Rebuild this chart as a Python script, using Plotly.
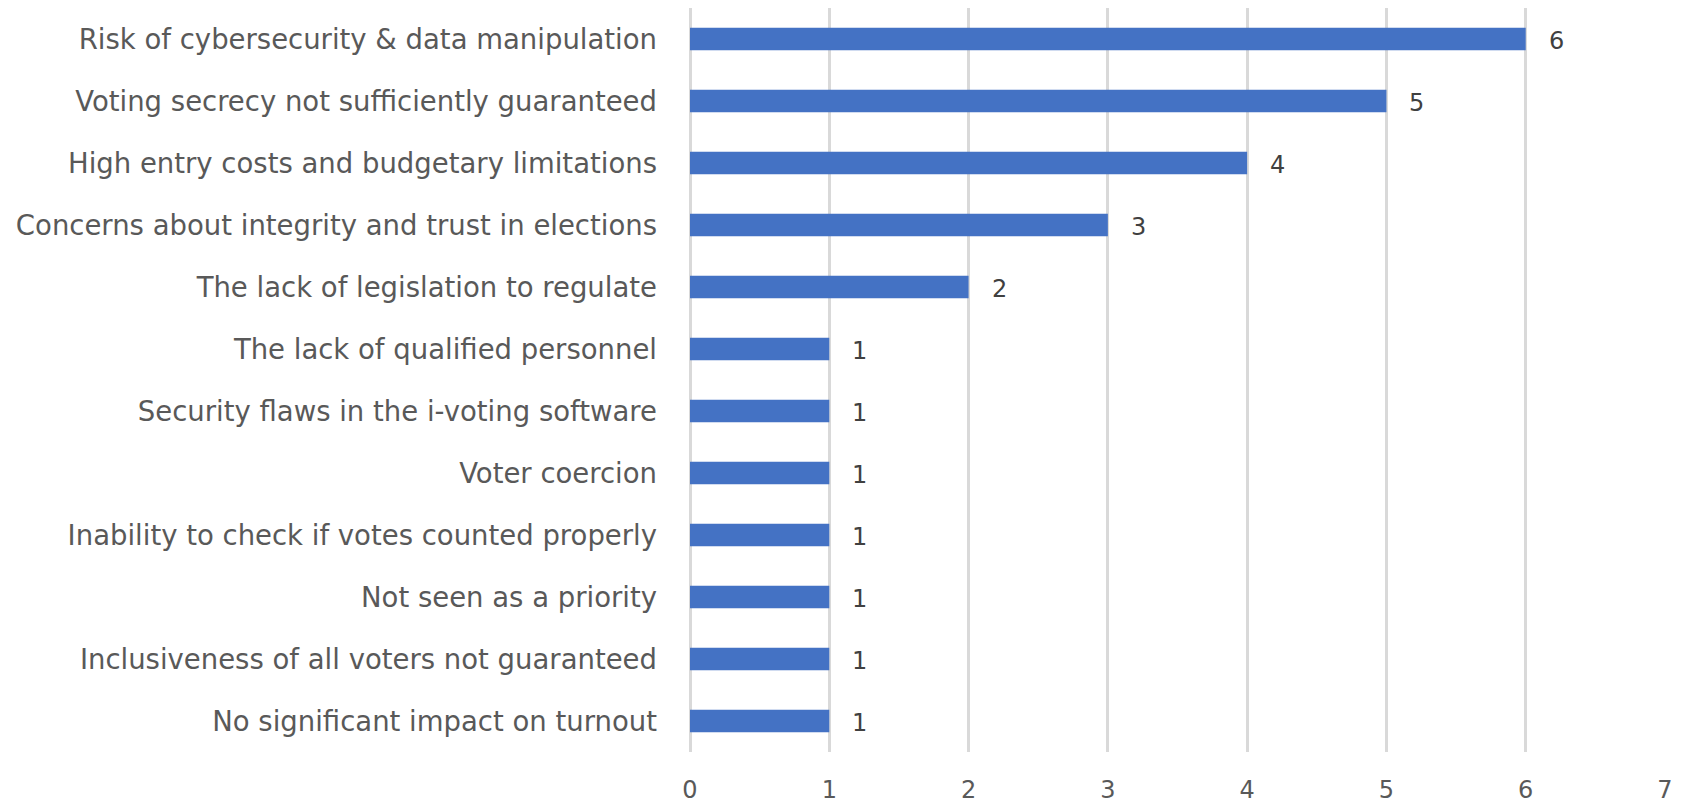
import plotly.graph_objects as go

categories = [
    "Risk of cybersecurity & data manipulation",
    "Voting secrecy not sufficiently guaranteed",
    "High entry costs and budgetary limitations",
    "Concerns about integrity and trust in elections",
    "The lack of legislation to regulate",
    "The lack of qualified personnel",
    "Security flaws in the i-voting software",
    "Voter coercion",
    "Inability to check if votes counted properly",
    "Not seen as a priority",
    "Inclusiveness of all voters not guaranteed",
    "No significant impact on turnout",
]
counts = [6, 5, 4, 3, 2, 1, 1, 1, 1, 1, 1, 1]
x_ticks = [0, 1, 2, 3, 4, 5, 6, 7]

FONT = "DejaVu Sans"
TEXT = "#595959"

fig = go.Figure(
    go.Bar(
        x=counts,
        y=categories,
        orientation="h",
        marker=dict(color="#4472C4", line=dict(width=0)),
        width=0.36,
        hoverinfo="skip",
    )
)

for cat, val in zip(categories, counts):
    fig.add_annotation(
        x=val, y=cat, text=str(val), showarrow=False,
        xanchor="left", xshift=21, yshift=-2,
        font=dict(family=FONT, size=24, color="#404040"),
    )

fig.update_layout(
    width=1682, height=803,
    margin=dict(l=690, r=17, t=8, b=51),
    plot_bgcolor="white", paper_bgcolor="white",
    showlegend=False,
    font=dict(family=FONT, size=26, color=TEXT),
    bargap=0.64,
)
fig.update_xaxes(
    range=[0, 7], tickvals=x_ticks, showgrid=True, gridcolor="#d9d9d9",
    gridwidth=2.5, zeroline=True, zerolinecolor="#d9d9d9", zerolinewidth=2.5,
    showline=False, ticks="", tickfont=dict(size=24, color=TEXT),
    ticklabelstandoff=21, automargin=False,
)
fig.update_yaxes(
    categoryorder="array", categoryarray=categories[::-1],
    showgrid=False, ticks="", ticklabelstandoff=32, automargin=False,
    tickfont=dict(size=27.5, color=TEXT),
)

fig.write_html("out.html")
